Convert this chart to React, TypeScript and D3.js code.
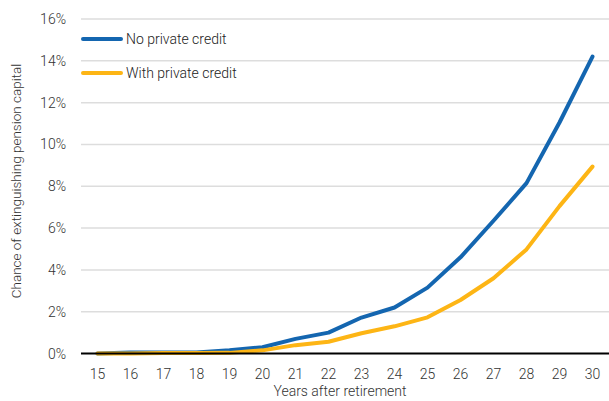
import React from "react";
import * as d3 from "d3";

const years = [15, 16, 17, 18, 19, 20, 21, 22, 23, 24, 25, 26, 27, 28, 29, 30];
const noPrivateCredit = [0, 0.05, 0.05, 0.05, 0.15, 0.3, 0.7, 1.0, 1.72, 2.2, 3.15, 4.6, 6.35, 8.15, 11.05, 14.2];
const withPrivateCredit = [0, 0, 0.02, 0.02, 0.03, 0.15, 0.4, 0.56, 0.97, 1.3, 1.73, 2.56, 3.6, 4.98, 7.05, 8.94];
const yTicks = [0, 2, 4, 6, 8, 10, 12, 14, 16];
const seriesNames = ["No private credit", "With private credit"];
const seriesColors = ["#1466b0", "#fdb515"];

const W = 609;
const H = 401;
const m = { left: 81, right: 0, top: 19, bottom: 47.5 };
const FONT = "Roboto, 'Noto Sans', sans-serif";

export default function App() {
  const x = d3
    .scalePoint<number>()
    .domain(years)
    .range([m.left, W - m.right])
    .padding(0.5);
  const y = d3.scaleLinear().domain([0, 16]).range([H - m.bottom, m.top]);

  const line = d3
    .line<number>()
    .x((_, i) => x(years[i]) as number)
    .y((d) => y(d));

  const series = [noPrivateCredit, withPrivateCredit];

  return (
    <svg
      width={W}
      height={H}
      style={{ position: "absolute", left: 0, top: 0 }}
      fontFamily={FONT}
      fontWeight={300}
    >
      <rect width={W} height={H} fill="#fff" />
      {yTicks.map((t) =>
        t === 0 ? null : (
          <line
            key={t}
            x1={m.left}
            x2={W - m.right}
            y1={y(t)}
            y2={y(t)}
            stroke="#dddddd"
            strokeWidth={1.5}
          />
        )
      )}
      {yTicks.map((t) => (
        <text
          key={"yl" + t}
          x={66}
          y={y(t)}
          dy="0.36em"
          textAnchor="end"
          fontSize={14}
          fill="#333"
        >
          {t}%
        </text>
      ))}
      {years.map((yr) => (
        <text
          key={"xl" + yr}
          x={x(yr)}
          y={H - m.bottom + 20}
          dy="0.36em"
          textAnchor="middle"
          fontSize={14}
          fill="#333"
        >
          {yr}
        </text>
      ))}
      <text
        x={340}
        y={396}
        textAnchor="middle"
        fontSize={14}
        fill="#333"
      >
        Years after retirement
      </text>
      <text
        transform={`translate(21,${181}) rotate(-90)`}
        textAnchor="middle"
        fontSize={13.5}
        fill="#333"
      >
        Chance of extinguishing pension capital
      </text>
      {series.map((s, i) => (
        <path
          key={"s" + i}
          d={line(s) || ""}
          fill="none"
          stroke={seriesColors[i]}
          strokeWidth={4}
          strokeLinejoin="round"
          strokeLinecap="round"
        />
      ))}
      <line
        x1={m.left}
        x2={W - m.right}
        y1={y(0)}
        y2={y(0)}
        stroke="#000"
        strokeWidth={2}
      />
      {seriesNames.map((n, i) => (
        <g key={"lg" + i} transform={`translate(0,${39 + i * 34})`}>
          <line x1={83} x2={121} y1={0} y2={0} stroke={seriesColors[i]} strokeWidth={4} strokeLinecap="round" />
          <text x={126} y={0} dy="0.36em" fontSize={14} fill="#222">
            {n}
          </text>
        </g>
      ))}
    </svg>
  );
}
